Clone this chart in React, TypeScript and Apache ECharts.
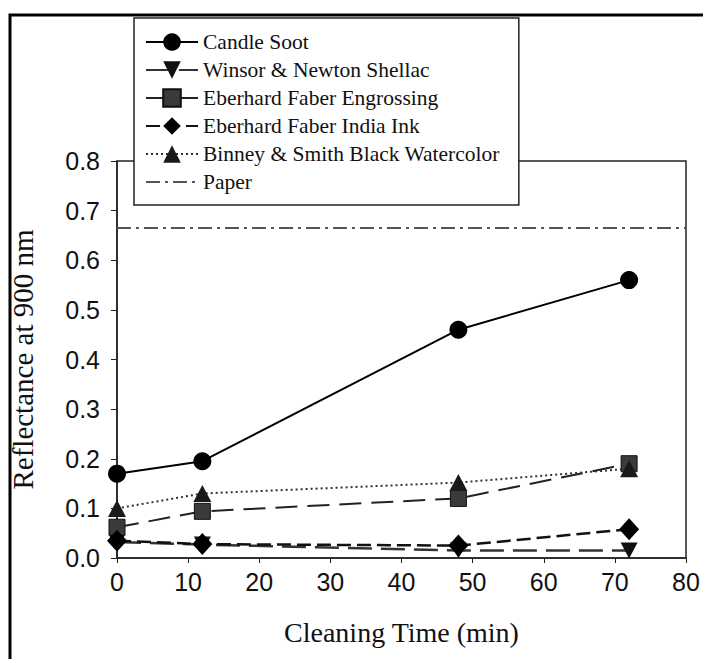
import React, { useEffect, useRef } from "react";
import * as echarts from "echarts";

const times = [0, 12, 48, 72];
const candleSoot = [0.17, 0.195, 0.46, 0.56];
const winsorShellac = [0.032, 0.027, 0.015, 0.015];
const engrossing = [0.062, 0.094, 0.12, 0.19];
const indiaInk = [0.035, 0.028, 0.025, 0.058];
const binney = [0.1, 0.13, 0.152, 0.18];
const paperX = [0, 80];
const paperY = [0.665, 0.665];
const seriesNames = [
  "Candle Soot",
  "Winsor & Newton Shellac",
  "Eberhard Faber Engrossing",
  "Eberhard Faber India Ink",
  "Binney & Smith Black Watercolor",
  "Paper",
];

const pairs = (xs: number[], ys: number[]) => xs.map((x, i) => [x, ys[i]]);

export default function App() {
  const ref = useRef<HTMLDivElement>(null);
  useEffect(() => {
    if (!ref.current) return;
    const chart = echarts.init(ref.current, null, { renderer: "svg" });
    const serif = "Liberation Serif";
    const sans = "Liberation Sans";
    chart.setOption({
      animation: false,
      backgroundColor: "#fff",
      graphic: [
        {
          type: "rect",
          shape: { x: 10, y: 15, width: 720, height: 700 },
          style: { fill: "none", stroke: "#000", lineWidth: 3 },
          z: 0,
        },
      ],
      grid: {
        left: 115,
        right: 17,
        top: 161,
        bottom: 101,
        show: true,
        borderColor: "#222",
        borderWidth: 1.5,
        backgroundColor: "transparent",
      },
      legend: {
        show: true,
        orient: "vertical",
        left: 134,
        top: 18,
        padding: [13, 19, 12, 11],
        itemGap: 6,
        itemWidth: 52,
        itemHeight: 22,
        itemTextGap: 13,
        backgroundColor: "#fff",
        borderColor: "#222",
        borderWidth: 1.5,
        borderRadius: 0,
        textStyle: { fontFamily: serif, fontSize: 21.5, color: "#111" },
        data: [
          seriesNames[0],
          seriesNames[1],
          seriesNames[2],
          seriesNames[3],
          seriesNames[4],
          { name: seriesNames[5], itemStyle: { opacity: 0 } },
        ],
      },
      xAxis: {
        type: "value",
        min: 0,
        max: 80,
        interval: 10,
        name: "Cleaning Time (min)",
        nameLocation: "middle",
        nameGap: 60,
        nameTextStyle: { fontFamily: serif, fontSize: 28, color: "#111" },
        axisLine: { show: true, lineStyle: { color: "#222", width: 1.5 } },
        axisTick: { show: true, length: 5, lineStyle: { color: "#222" } },
        axisLabel: {
          fontFamily: sans,
          fontSize: 25,
          color: "#111",
          margin: 11,
        },
        splitLine: { show: false },
      },
      yAxis: {
        type: "value",
        min: 0,
        max: 0.8,
        interval: 0.1,
        name: "Reflectance at 900 nm",
        nameLocation: "middle",
        nameGap: 80,
        nameTextStyle: { fontFamily: serif, fontSize: 29, color: "#111" },
        axisLine: { show: true, lineStyle: { color: "#222", width: 1.5 } },
        axisTick: { show: true, length: 6, lineStyle: { color: "#222" } },
        axisLabel: {
          fontFamily: sans,
          fontSize: 25,
          color: "#111",
          margin: 17,
          formatter: (v: number) => v.toFixed(1),
        },
        splitLine: { show: false },
      },
      series: [
        {
          name: seriesNames[0],
          type: "line",
          data: pairs(times, candleSoot),
          symbol: "circle",
          symbolSize: 18,
          itemStyle: { color: "#000" },
          lineStyle: { color: "#000", width: 2, type: "solid" },
          z: 6,
        },
        {
          name: seriesNames[1],
          type: "line",
          data: pairs(times, winsorShellac),
          symbol: "path://M0,0 L10,0 L5,10 Z",
          symbolSize: [17, 16],
          itemStyle: { color: "#111" },
          lineStyle: { color: "#333", width: 2.5, type: [24, 9] },
          z: 3,
        },
        {
          name: seriesNames[2],
          type: "line",
          data: pairs(times, engrossing),
          symbol: "rect",
          symbolSize: 16,
          itemStyle: { color: "#3a3a3a", borderColor: "#111", borderWidth: 1 },
          lineStyle: { color: "#222", width: 2, type: [22, 10] },
          z: 4,
        },
        {
          name: seriesNames[3],
          type: "line",
          data: pairs(times, indiaInk),
          symbol: "diamond",
          symbolSize: [20, 22],
          itemStyle: { color: "#000" },
          lineStyle: { color: "#111", width: 2.5, type: [14, 6] },
          z: 5,
        },
        {
          name: seriesNames[4],
          type: "line",
          data: pairs(times, binney),
          symbol: "triangle",
          symbolSize: [18, 17],
          itemStyle: { color: "#1a1a1a" },
          lineStyle: { color: "#333", width: 2, type: [2, 3] },
          z: 4,
        },
        {
          name: seriesNames[5],
          type: "line",
          data: pairs(paperX, paperY),
          symbol: "none",
          itemStyle: { color: "#555" },
          lineStyle: { color: "#555", width: 2, type: [14, 5, 3, 5] },
          z: 2,
        },
      ],
    });
    return () => chart.dispose();
  }, []);
  return (
    <div
      ref={ref}
      style={{ position: "fixed", left: 0, top: 0, width: 703, height: 659 }}
    />
  );
}
